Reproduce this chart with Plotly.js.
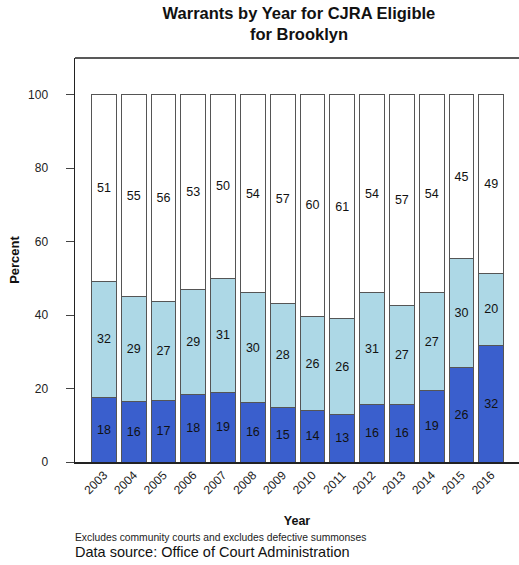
<!DOCTYPE html>
<html>
<head>
<meta charset="utf-8">
<script src="https://cdn.plot.ly/plotly-3.0.1.min.js"></script>
<style>html,body{margin:0;padding:0;background:#fff;}#chart{width:519px;height:565px;}</style>
</head>
<body>
<div id="chart"></div>
<script>
const years = ["2003","2004","2005","2006","2007","2008","2009","2010","2011","2012","2013","2014","2015","2016"];
const bottomPct = [17.6,16.4,16.8,18.3,18.8,16.1,14.8,13.9,13.0,15.6,15.6,19.4,25.6,31.7];
const middlePct = [31.6,28.6,27.0,28.7,31.3,30.1,28.4,25.8,26.0,30.6,27.1,26.8,29.8,19.7];
const topPct    = [50.8,55.0,56.2,53.0,49.9,53.8,56.8,60.3,61.0,53.8,57.3,53.8,44.6,48.6];
const yTicks = [0,20,40,60,80,100];

const FONT = "Liberation Sans, Arial, Helvetica, sans-serif";
function seg(vals, color){
  const tf = {family:FONT, size:12.5, color:'#111'};
  return {
    type:'bar', x:years, y:vals,
    marker:{color:color, line:{color:'#555', width:1}},
    texttemplate:'%{y:.0f}', textposition:'inside', insidetextanchor:'middle',
    textangle:0, constraintext:'none',
    textfont:tf, insidetextfont:tf, outsidetextfont:tf,
    hoverinfo:'skip', showlegend:false
  };
}
const data = [seg(bottomPct,'#3A5FCD'), seg(middlePct,'#ADD8E6'), seg(topPct,'#FFFFFF')];

const layout = {
  width:519, height:565,
  margin:{l:75, r:0, t:58, b:103},
  paper_bgcolor:'#fff', plot_bgcolor:'#fff',
  barmode:'stack', bargap:0.17,
  font:{family:FONT, color:'#222'},
  title:{text:'<b>Warrants by Year for CJRA Eligible<br>for Brooklyn</b>',
    x:0.576, xref:'container', xanchor:'center', y:0.967, yref:'container', yanchor:'top',
    font:{family:FONT, size:16.5, color:'#111'}},
  xaxis:{type:'category', range:[-0.97,13.93], tickangle:-45, ticks:'',
    tickfont:{family:FONT, size:12, color:'#222'},
    showline:true, linecolor:'#222', linewidth:1.5, showgrid:false, zeroline:false,
    title:{text:'<b>Year</b>', font:{family:FONT, size:12.5, color:'#111'}, standoff:20}},
  yaxis:{range:[0,110], tickvals:yTicks, ticks:'outside', ticklen:8, tickcolor:'#444',
    ticklabelstandoff:15,
    tickfont:{family:FONT, size:12, color:'#222'},
    showline:true, linecolor:'#222', linewidth:1.5, showgrid:false, zeroline:false,
    title:{text:'<b>Percent</b>', font:{family:FONT, size:13, color:'#111'}, standoff:5}},
  shapes:[{type:'line', xref:'paper', yref:'paper', x0:0, x1:1, y0:1, y1:1,
    line:{color:'#222', width:1.5}}],
  annotations:[
    {text:'Excludes community courts and excludes defective summonses', xref:'paper', yref:'paper',
     x:-0.005, y:-0.188, xanchor:'left', yanchor:'middle', showarrow:false,
     font:{family:FONT, size:10.3, color:'#222'}},
    {text:'Data source: Office of Court Administration', xref:'paper', yref:'paper',
     x:-0.005, y:-0.224, xanchor:'left', yanchor:'middle', showarrow:false,
     font:{family:FONT, size:14.5, color:'#111'}}
  ],
  hovermode:false
};
Plotly.newPlot('chart', data, layout, {displayModeBar:false, staticPlot:true});
</script>
</body>
</html>
